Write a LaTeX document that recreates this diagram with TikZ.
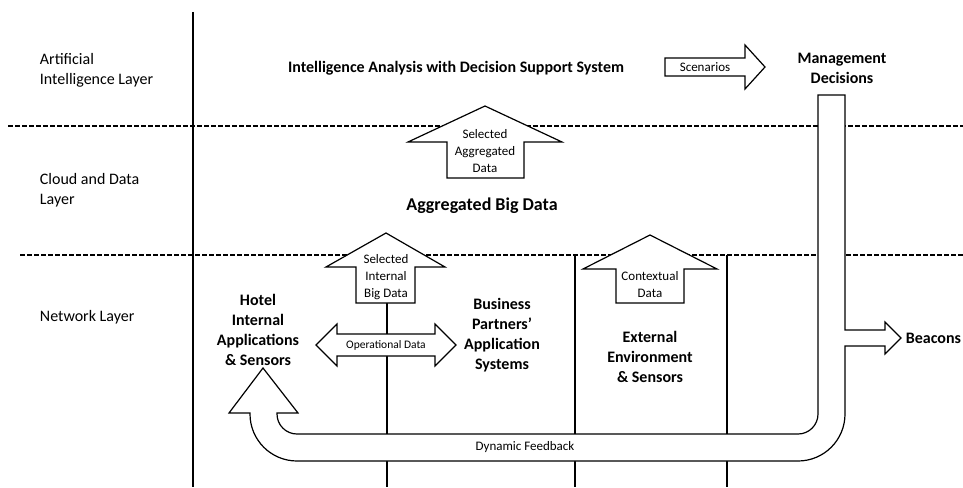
\documentclass[tikz,border=0pt]{standalone}
\usepackage{fontspec}
\setmainfont{Carlito}
\begin{document}
\begin{tikzpicture}[x=1pt,y=-1pt,line width=1.2pt,
    layer/.style={anchor=west,align=left,font=\fontsize{16}{20}\selectfont},
    title/.style={align=center,font=\bfseries\fontsize{16}{20}\selectfont},
    small/.style={align=center,font=\fontsize{13}{17}\selectfont},
    blockarrow/.style={draw,fill=white,line join=miter},
    divider/.style={dash pattern=on 4.5pt off 2.5pt}]
    \useasboundingbox (0,0) rectangle (963,487);
    % layers
    \draw (193,12) -- (193,487);
    \draw[divider] (8,126) -- (963,126);
    \draw[divider] (20,255) -- (963,255);
    \node[layer] (ail) at (36,70) {Artificial\\Intelligence Layer};
    \node[layer] (cdl) at (36,190) {Cloud and Data\\Layer};
    \node[layer] (nl) at (36,317) {Network Layer};
    % network layer walls
    \draw (387,303) -- (387,487);
    \draw (575,255) -- (575,487);
    \draw (727,255) -- (727,487);
    % feedback pipe
    \draw[blockarrow] (818,95) -- (845,95) -- (845,330) -- (885,330) -- (885,322) -- (901,338)
        -- (885,354) -- (885,346) -- (845,346) -- (845,414) arc[start angle=0,end angle=90,radius=47]
        -- (297,461) arc[start angle=90,end angle=180,radius=47] -- (250,413) -- (229,413)
        -- (263,368) -- (298,413) -- (277,413) -- (277,414) arc[start angle=180,end angle=90,radius=20]
        -- (798,434) arc[start angle=90,end angle=0,radius=20] -- cycle;
    \node[small] (fb) at (525,447) {Dynamic Feedback};
    % block arrows
    \draw[blockarrow] (665,58) -- (745,58) -- (745,45) -- (765,67) -- (745,89) -- (745,76) -- (665,76) -- cycle;
    \draw[blockarrow] (447,178) -- (447,142) -- (408,142) -- (485,106) -- (562,142) -- (524,142) -- (524,178) -- cycle;
    \draw[blockarrow] (356,303) -- (356,267) -- (326,267) -- (386,233) -- (445,267) -- (415,267) -- (415,303) -- cycle;
    \draw[blockarrow] (616,303) -- (616,269) -- (583,269) -- (650,235) -- (717,269) -- (684,269) -- (684,303) -- cycle;
    \draw[blockarrow] (316,345) -- (337,324) -- (337,334) -- (435,334) -- (435,324) -- (456,345)
        -- (435,366) -- (435,356) -- (337,356) -- (337,366) -- cycle;
    \node[small] (scen) at (705,67) {Scenarios};
    \node[small] (sad) at (485,151) {Selected\\Aggregated\\Data};
    \node[small] (sibd) at (386,277) {Selected\\Internal\\Big Data};
    \node[small] (ctx) at (650,285) {Contextual\\Data};
    \node[small,font=\fontsize{11.5}{14}\selectfont] (opd) at (386,345) {Operational Data};
    % block titles
    \node[title] (ia) at (456,68) {Intelligence Analysis with Decision Support System};
    \node[title] (md) at (842,68) {Management\\Decisions};
    \node[title,font=\bfseries\fontsize{18}{22}\selectfont] (abd) at (482,206) {Aggregated Big Data};
    \node[title] (hotel) at (258,330) {Hotel\\Internal\\Applications\\\& Sensors};
    \node[title] (bp) at (502,335) {Business\\Partners’\\Application\\Systems};
    \node[title] (ext) at (650,357) {External\\Environment\\\& Sensors};
    \node[title,anchor=west] (bea) at (902,338) {Beacons};
\end{tikzpicture}
\end{document}
